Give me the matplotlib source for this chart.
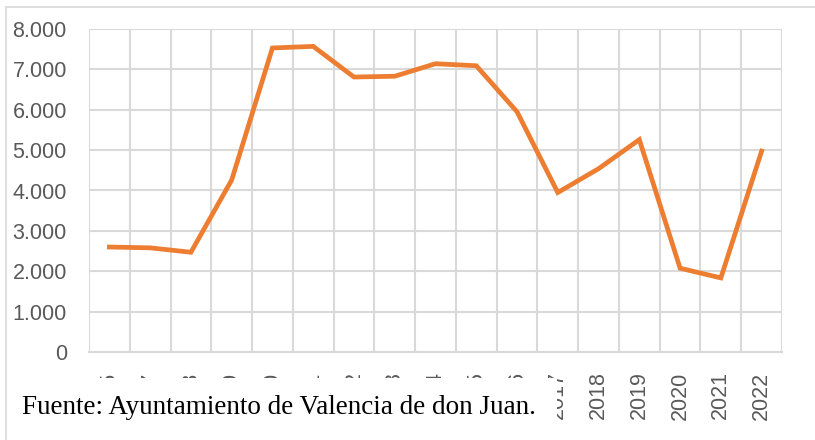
import matplotlib
matplotlib.use("Agg")
import matplotlib.pyplot as plt
from matplotlib.patches import Rectangle
from matplotlib.ticker import FuncFormatter, MultipleLocator
import numpy as np

years = ["2005", "2007", "2008", "2009", "2010", "2011", "2012", "2013", "2014",
         "2015", "2016", "2017", "2018", "2019", "2020", "2021", "2022"]
values = [2600, 2580, 2470, 4260, 7530, 7570, 6810, 6830, 7140,
          7090, 5950, 3950, 4540, 5260, 2075, 1835, 4975]
source = "Fuente: Ayuntamiento de Valencia de don Juan."

fig = plt.figure(figsize=(8.15, 4.4), dpi=100)
# outer chart border
fig.patches.append(Rectangle((6/815, -0.1), 1.2, 1 - 7/440 + 0.1, transform=fig.transFigure,
                             fill=False, edgecolor="#d9d9d9", linewidth=1.2, zorder=0))

ax = fig.add_axes([89/815, 1 - 352/440, (782-89)/815, (352-29)/440])
x = np.arange(len(years))
ax.plot(x, values, color="#ed7d31", linewidth=3.4, solid_joinstyle="miter", zorder=3)
ax.set_xlim(-0.5, len(years) - 0.5)
ax.set_ylim(0, 8000)
ax.yaxis.set_major_locator(MultipleLocator(1000))
ax.yaxis.set_major_formatter(FuncFormatter(lambda v, p: f"{int(v):,}".replace(",", ".")))
ax.set_xticks(x)
ax.set_xticklabels(years, rotation=90, va="top", ha="center")
ax.set_xticks(np.arange(-0.5, len(years)), minor=True)
ax.grid(True, which="major", axis="y", color="#d9d9d9", linewidth=1.5)
ax.grid(True, which="minor", axis="x", color="#d9d9d9", linewidth=1.5)
ax.tick_params(axis="both", which="both", length=0, labelsize=15.5, labelcolor="#595959")
ax.tick_params(axis="x", pad=14)
ax.tick_params(axis="y", pad=16)
for lab in ax.get_xticklabels() + ax.get_yticklabels():
    lab.set_fontfamily("Liberation Sans")
for s in ax.spines.values():
    s.set_visible(False)
ax.spines["bottom"].set_visible(True)
ax.spines["bottom"].set_color("#d9d9d9")
ax.spines["bottom"].set_linewidth(1.5)
ax.set_axisbelow(True)

# source box covering lower-left
fig.patches.append(Rectangle((15/815, 0), (557-15)/815, (440-378)/440, transform=fig.transFigure,
                             facecolor="white", edgecolor="none", zorder=10))
fig.text(22/815, 1 - 407/440, source, fontsize=19.5, family="Liberation Serif",
         color="black", va="center", ha="left", zorder=11)

fig.savefig("out.png", dpi=100)
